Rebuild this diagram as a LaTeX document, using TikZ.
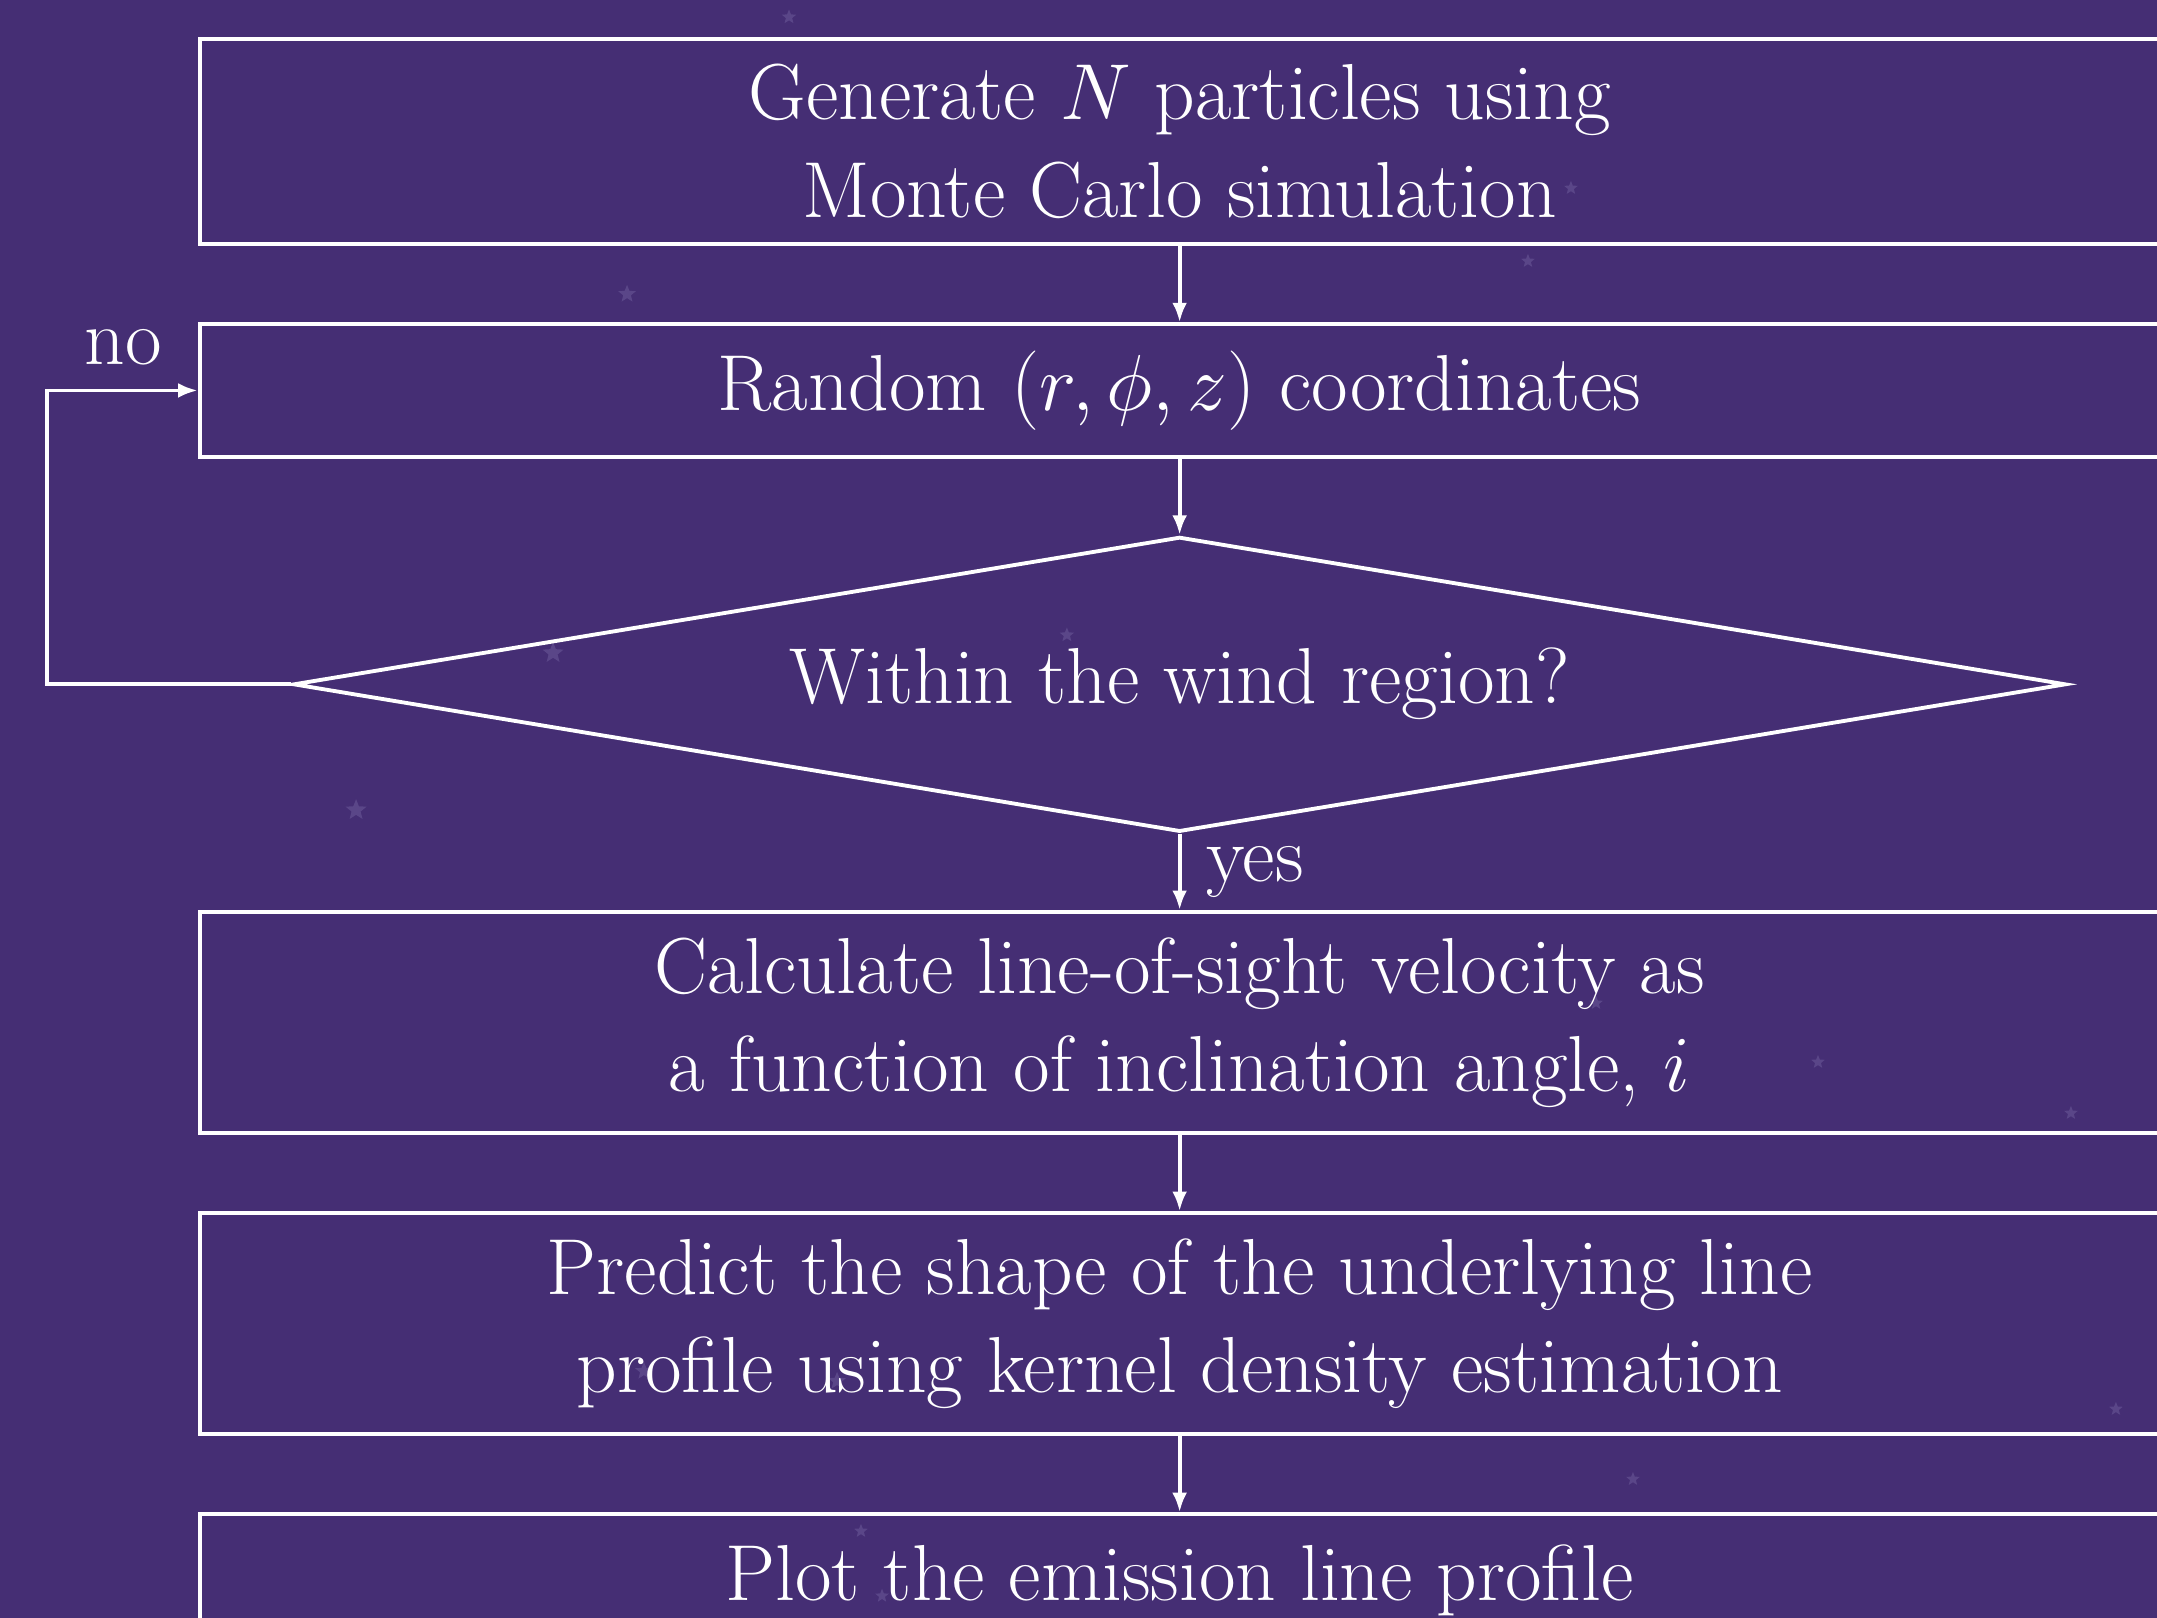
\documentclass[tikz,border=0pt]{standalone}
\usepackage{graphicx}
\usepackage{xcolor}
\usepackage{tikz}
\usetikzlibrary{shapes.geometric,arrows.meta,positioning}
\definecolor{bgpurple}{RGB}{69,46,116}
\definecolor{starpurple}{RGB}{90,70,136}
\newcommand{\boxtext}[1]{\scalebox{0.776}{\begin{tabular}{@{}c@{}}#1\end{tabular}}}

\begin{document}
\begin{tikzpicture}[>={Latex[length=3.3pt,width=2.5pt]},
every node/.style={text=white,font=\fontsize{17.28}{21.33}\selectfont},
stepbox/.style={rectangle,draw=white,line width=0.65pt,inner sep=0pt,minimum width=11.63cm},
decision/.style={diamond,draw=white,line width=0.65pt,aspect=6,inner sep=0pt,minimum width=10.52cm,minimum height=1.75cm},
flow/.style={->,draw=white,line width=0.65pt},
bgstar/.style={star,star points=5,star point ratio=2.3,fill=starpurple,inner sep=0pt}]
\useasboundingbox (0,0) rectangle (12.8,-9.6);
\fill[bgpurple] (0,0) rectangle (12.8,-9.6);
% faint stars in the background
\foreach \x/\y/\s in {4.682/-0.101/0.09,9.322/-1.116/0.085,9.067/-1.549/0.085,3.721/-1.745/0.11,
3.282/-3.875/0.13,6.331/-3.768/0.09,2.113/-4.807/0.13,9.471/-5.952/0.085,10.788/-6.302/0.085,
12.289/-6.605/0.085,12.556/-8.361/0.085,9.690/-8.777/0.085,5.109/-9.085/0.085,5.234/-9.470/0.085,
3.821/-8.136/0.11,4.967/-8.195/0.11}
\node[bgstar,minimum size=\s cm] at (\x,\y) {};
% flow chart
\node[stepbox,minimum height=1.218cm] (gen) at (7,-0.839) {\raisebox{-1.3pt}[\height][\depth]{\boxtext{Generate $N$ particles using\\Monte Carlo simulation}}};
\node[stepbox,minimum height=0.786cm,below=0.453cm of gen] (rand) {\boxtext{Random $(r,\phi,z)$ coordinates}};
\node[decision,below=0.453cm of rand] (wind) {\boxtext{Within the wind region?}};
\node[stepbox,minimum height=1.311cm,below=0.453cm of wind] (los) {\boxtext{Calculate line-of-sight velocity as\\a function of inclination angle, $i$}};
\node[stepbox,minimum height=1.311cm,below=0.453cm of los] (kde) {\boxtext{Predict the shape of the underlying line\\profile using kernel density estimation}};
\node[stepbox,minimum height=0.786cm,below=0.453cm of kde] (plot) {\boxtext{Plot the emission line profile}};
\draw[flow] (gen) -- (rand);
\draw[flow] (rand) -- (wind);
\draw[flow] (wind) -- (los);
\draw[flow] (los) -- (kde);
\draw[flow] (kde) -- (plot);
\coordinate[left=1.45cm of wind.west] (back);
\draw[flow] (wind.west) -- (back) |- (rand.west);
\node (no) at (0.730,-2.045) {\boxtext{no}};
\node (yes) at (7.447,-5.113) {\boxtext{yes}};
\end{tikzpicture}
\end{document}
